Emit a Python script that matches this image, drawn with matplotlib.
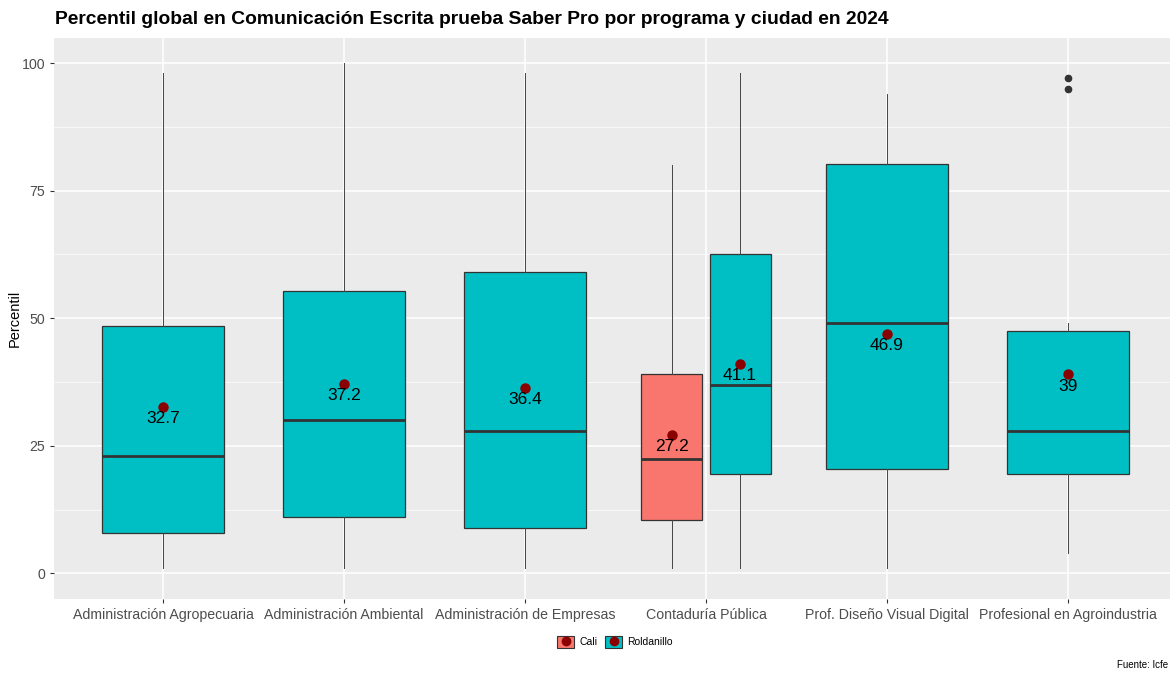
import matplotlib

matplotlib.use("Agg")

import matplotlib.pyplot as plt
from matplotlib.lines import Line2D
from matplotlib.patches import Patch
from matplotlib.legend_handler import HandlerTuple

plt.rcParams["font.family"] = ["Liberation Sans", "DejaVu Sans"]

programs = [
    "Administración Agropecuaria",
    "Administración Ambiental",
    "Administración de Empresas",
    "Contaduría Pública",
    "Prof. Diseño Visual Digital",
    "Profesional en Agroindustria",
]

# one box per (program, city); Contaduría has both cities
box_program = [0, 1, 2, 3, 3, 4, 5]
box_city = ["Roldanillo", "Roldanillo", "Roldanillo", "Cali", "Roldanillo", "Roldanillo", "Roldanillo"]
whis_lo = [1, 1, 1, 1, 1, 1, 4]
q1 = [8, 11, 9, 10.5, 19.5, 20.5, 19.5]
median = [23, 30, 28, 22.5, 37, 49, 28]
q3 = [48.5, 55.3, 59, 39, 62.5, 80.3, 47.5]
whis_hi = [98, 100, 98, 80, 98, 94, 49]
means = [32.7, 37.2, 36.4, 27.2, 41.1, 46.9, 39.0]
fliers = [[], [], [], [], [], [], [95, 97]]

city_colors = {"Cali": "#F8766D", "Roldanillo": "#00BFC4"}
edge = "#333333"

fig = plt.figure(figsize=(11.7, 6.73), dpi=100)
W, H = 1170, 673
ax = fig.add_axes([54.4 / W, (673 - 598.5) / H, (1176.6 - 54.4) / W, 561 / H])
ax.set_facecolor("#EBEBEB")

# dodge boxes that share a program
positions, widths = [], []
for i, p in enumerate(box_program):
    n = box_program.count(p)
    if n == 1:
        positions.append(p)
        widths.append(0.674)
    else:
        k = [j for j, q in enumerate(box_program) if q == p].index(i)
        positions.append(p + (-0.188 if k == 0 else 0.188))
        widths.append(0.337)

stats = []
for i in range(len(box_program)):
    stats.append({
        "whislo": whis_lo[i], "q1": q1[i], "med": median[i], "q3": q3[i],
        "whishi": whis_hi[i], "fliers": fliers[i],
    })

bp = ax.bxp(
    stats, positions=positions, widths=widths, showcaps=False, patch_artist=True,
    boxprops=dict(edgecolor=edge, linewidth=0.9),
    medianprops=dict(color=edge, linewidth=2.0),
    whiskerprops=dict(color="#444444", linewidth=0.7),
    flierprops=dict(marker="o", markerfacecolor=edge, markeredgecolor=edge, markersize=4.5),
    zorder=3,
)
for patch, city in zip(bp["boxes"], box_city):
    patch.set_facecolor(city_colors[city])

for x, m in zip(positions, means):
    ax.plot(x, m, "o", color="#8B0000", markersize=6.5, zorder=5)
    ax.annotate(f"{m:g}", (x, m), xytext=(0, -3), textcoords="offset points",
                ha="center", va="top", fontsize=12.5, color="black", zorder=6)

ax.set_xlim(-0.6, 5.6)
ax.set_ylim(-4.9, 105)
ax.set_xticks(range(len(programs)))
ax.set_xticklabels(programs)
ax.set_yticks([0, 25, 50, 75, 100])
ax.set_yticks([12.5, 37.5, 62.5, 87.5], minor=True)
ax.grid(which="major", color="white", linewidth=1.1, zorder=0)
ax.grid(which="minor", axis="y", color="white", linewidth=0.5, zorder=0)
ax.set_axisbelow(True)
for s in ax.spines.values():
    s.set_visible(False)
ax.tick_params(axis="both", which="major", colors="#333333", labelcolor="#4D4D4D",
               labelsize=10.2, length=3, width=0.8)
ax.tick_params(axis="y", which="minor", length=0)
ax.set_ylabel("Percentil", fontsize=10.5, color="black", labelpad=0)

fig.text(55 / W, 1 - 20 / H, "Percentil global en Comunicación Escrita prueba Saber Pro por programa y ciudad en 2024",
         fontsize=13.85, fontweight="bold", ha="left", va="center")

# legend keys: grey key background, filled box and the mean point on top
handles = []
for city in ["Cali", "Roldanillo"]:
    handles.append((Patch(facecolor="#EBEBEB", edgecolor="none"),
                    Patch(facecolor=city_colors[city], edgecolor=edge, linewidth=0.8),
                    Line2D([], [], marker="o", color="#8B0000", linestyle="", markersize=6)))
leg = fig.legend(handles, ["Cali", "Roldanillo"], handler_map={tuple: HandlerTuple(ndivide=1)},
                 loc="center", bbox_to_anchor=(615 / W, 1 - 642 / H), ncol=2, frameon=False,
                 fontsize=7.5, handlelength=1.6, handleheight=1.4, columnspacing=0.8, handletextpad=0.5)

fig.text(1168 / W, 1 - 665 / H, "Fuente: Icfe", fontsize=7, ha="right", va="center")

fig.savefig("out.png", dpi=100)
